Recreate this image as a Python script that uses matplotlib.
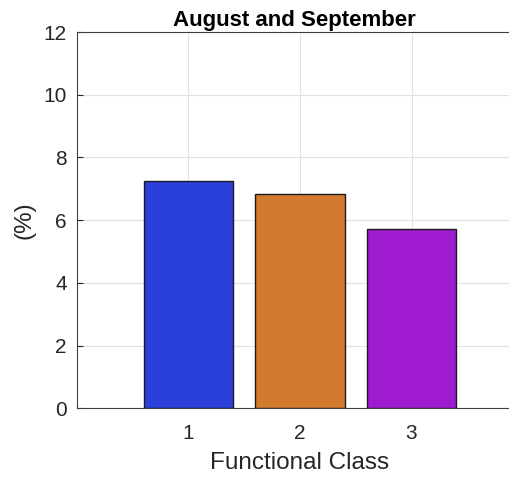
import matplotlib
matplotlib.use('Agg')
import matplotlib.pyplot as plt

classes = [1, 2, 3]
values = [7.25, 6.84, 5.71]
colors = ['#2B3FDB', '#D27A2E', '#9E1BCF']

plt.rcParams['font.family'] = ['Liberation Sans', 'DejaVu Sans']

fig = plt.figure(figsize=(5.09, 4.82), dpi=100)
ax = fig.add_axes([0.1507, 0.1529, 0.877, 0.7807])

ax.bar(classes, values, width=0.8, color=colors, edgecolor='#1a1a1a', linewidth=1.0, zorder=3)

ax.set_xlim(0, 4)
ax.set_ylim(0, 12)
ax.set_xticks(classes)
ax.set_yticks(range(0, 13, 2))
ax.grid(True, color='#e0e0e0', linewidth=0.8, zorder=0)
ax.set_axisbelow(True)
ax.tick_params(direction='in', length=4, labelsize=15, colors='#262626', width=0.8)
ax.tick_params(axis='x', pad=11)
ax.tick_params(axis='y', pad=7)
for s in ax.spines.values():
    s.set_color('#404040')
    s.set_linewidth(0.8)

ax.set_xlabel('Functional Class', fontsize=17.5, color='#262626', labelpad=7)
ax.set_ylabel('(%)', fontsize=17.5, color='#262626', labelpad=6)
ax.set_title('August and September', fontsize=16, fontweight='bold', pad=4, x=0.487)

fig.savefig('out.png', dpi=100)
